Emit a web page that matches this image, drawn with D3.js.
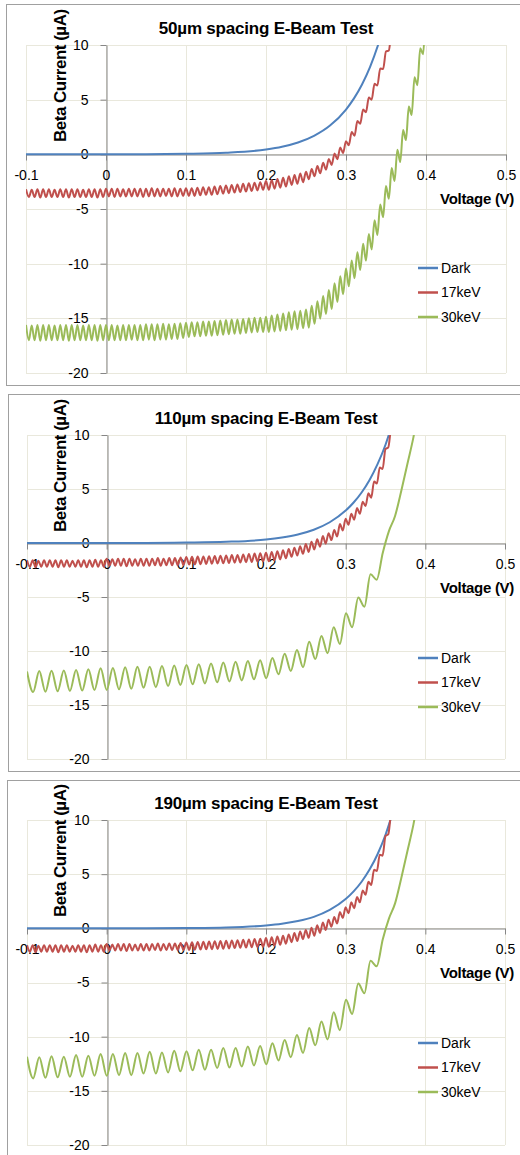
<!DOCTYPE html>
<html>
<head>
<meta charset="utf-8">
<script src="https://cdn.jsdelivr.net/npm/d3@7"></script>
<style>
  body { margin: 0; background: #fff; }
  svg { display: block; font-family: "Liberation Sans", Arial, sans-serif; }
  .tick text { font-size: 14px; fill: #000; }
  .axis path, .axis line { stroke: #868686; }
</style>
</head>
<body>
<svg id="chart"></svg>
<script>
const width = 520,
  height = 1155;

// axes
const voltTicks = [-0.1, 0, 0.1, 0.2, 0.3, 0.4, 0.5];
const currentTicks = [-20, -15, -10, -5, 0, 5, 10];
const seriesNames = ["Dark", "17keV", "30keV"];
const seriesColors = ["#4F81BD", "#C0504D", "#9BBB59"];
const titles = [
  "50µm spacing E-Beam Test",
  "110µm spacing E-Beam Test",
  "190µm spacing E-Beam Test",
];

// dark curves (voltage, current in µA)
const darkVoltage = [-0.1, -0.05, 0, 0.05, 0.1, 0.15, 0.2, 0.22, 0.24, 0.26, 0.28, 0.3, 0.31, 0.32, 0.33, 0.34, 0.35, 0.36];
const dark50 = [0, 0, 0, 0.01, 0.05, 0.15, 0.44, 0.69, 1.08, 1.69, 2.63, 4.1, 5.12, 6.39, 7.98, 9.98, 12.4, 15.5];
const dark110 = [0, 0, 0, 0.01, 0.04, 0.11, 0.32, 0.51, 0.79, 1.23, 1.92, 3.0, 3.75, 4.68, 5.84, 7.3, 9.1, 11.4];
const dark190 = [0, 0, 0, 0.01, 0.03, 0.08, 0.26, 0.42, 0.67, 1.06, 1.7, 2.7, 3.41, 4.3, 5.42, 6.84, 8.64, 10.9];

// e-beam sweeps: sweep starts at -0.1 V, one reading per ripple half-period
const sweepStart = -0.1;
const step50 = 0.003571;
const step17k = 0.003571;
const step30k = 0.0077;

const red50 = [
  -3.2, -3.9, -3.25, -3.9, -3.2, -3.95, -3.2, -3.9, -3.2, -3.9, -3.25, -3.9, -3.2, -3.9,
  -3.2, -3.95, -3.2, -3.9, -3.2, -3.9, -3.25, -3.9, -3.2, -3.9, -3.2, -3.95, -3.2, -3.9,
  -3.15, -3.85, -3.15, -3.9, -3.15, -3.85, -3.2, -3.85, -3.15, -3.85, -3.15, -3.85, -3.15, -3.9,
  -3.15, -3.85, -3.1, -3.85, -3.15, -3.85, -3.15, -3.8, -3.15, -3.85, -3.1, -3.85, -3.15, -3.8,
  -3.1, -3.8, -3.1, -3.8, -3.05, -3.75, -3.0, -3.7, -3.0, -3.7, -2.95, -3.65, -2.9, -3.6,
  -2.85, -3.55, -2.8, -3.5, -2.75, -3.45, -2.7, -3.4, -2.65, -3.35, -2.6, -3.3, -2.55, -3.25,
  -2.45, -3.25, -2.35, -3.15, -2.25, -3.05, -2.15, -2.95, -2.0, -2.8, -1.9, -2.7, -1.75, -2.55,
  -1.6, -2.27, -1.35, -2.0, -1.07, -1.73, -0.78, -1.4, -0.42, -0.97, 0.08, -0.45, 0.63, 0.11,
  1.2, 0.83, 2.05, 1.7, 3.05, 2.8, 4.1, 3.85, 5.2, 5.0, 6.45, 6.3, 7.85, 7.8,
  9.4, 9.5, 11.2, 11.3,
];
const green50 = [
  -15.6, -17.0, -15.65, -17.0, -15.6, -17.05, -15.6, -17.0, -15.6, -17.0, -15.65, -17.0, -15.6, -17.0,
  -15.6, -17.05, -15.6, -17.0, -15.6, -17.0, -15.65, -17.0, -15.6, -17.0, -15.6, -17.05, -15.6, -17.0,
  -15.6, -17.0, -15.6, -17.0, -15.65, -17.0, -15.6, -17.0, -15.6, -16.95, -15.6, -17.0, -15.6, -17.0,
  -15.55, -16.95, -15.55, -17.0, -15.55, -16.95, -15.5, -16.95, -15.55, -16.9, -15.5, -16.9, -15.45, -16.8,
  -15.4, -16.7, -15.35, -16.65, -15.35, -16.65, -15.3, -16.6, -15.3, -16.6, -15.25, -16.55, -15.2, -16.5,
  -15.15, -16.45, -15.1, -16.4, -15.1, -16.4, -15.05, -16.35, -15.0, -16.3, -14.95, -16.25, -14.95, -16.25,
  -14.85, -16.25, -14.75, -16.2, -14.65, -16.15, -14.55, -16.1, -14.45, -16.05, -14.35, -16.0, -14.3, -15.9,
  -14.2, -15.85, -13.85, -15.5, -13.44, -15.03, -12.95, -14.6, -12.4, -14.15, -11.8, -13.5, -11.15, -12.8,
  -10.45, -12.07, -9.7, -11.33, -8.95, -10.57, -8.17, -9.72, -7.28, -8.7, -6.04, -7.38, -4.58, -5.74,
  -2.9, -4.07, -1.26, -2.44, 0.43, -0.71, 2.23, 1.3, 4.37, 3.6, 7.06, 6.33, 9.7, 9.15, 13.0, 12.5,
];

const red110 = [
  -1.6, -2.2, -1.6, -2.25, -1.65, -2.2, -1.6, -2.2, -1.6, -2.2, -1.6, -2.25, -1.6, -2.2,
  -1.6, -2.2, -1.65, -2.2, -1.6, -2.2, -1.6, -2.25, -1.6, -2.2, -1.55, -2.2, -1.6, -2.2,
  -1.45, -2.1, -1.5, -2.1, -1.45, -2.1, -1.45, -2.15, -1.45, -2.1, -1.5, -2.1, -1.45, -2.1,
  -1.45, -2.1, -1.45, -2.05, -1.4, -2.1, -1.45, -2.05, -1.4, -2.05, -1.4, -2.05, -1.35, -2.05,
  -1.3, -2.0, -1.28, -1.98, -1.26, -1.96, -1.24, -1.94, -1.22, -1.92, -1.2, -1.9, -1.18, -1.88,
  -1.15, -1.85, -1.12, -1.82, -1.1, -1.8, -1.06, -1.78, -1.02, -1.75, -0.98, -1.72, -0.95, -1.7,
  -0.9, -1.7, -0.83, -1.6, -0.76, -1.52, -0.68, -1.42, -0.56, -1.28, -0.43, -1.16, -0.29, -1.0,
  -0.1, -0.83, 0.11, -0.6, 0.34, -0.34, 0.64, -0.06, 0.91, 0.27, 1.21, 0.6, 1.75, 1.15,
  2.25, 1.68, 2.71, 2.15, 3.23, 2.7, 3.83, 3.42, 4.6, 4.2, 5.7, 5.5, 7.0, 6.85,
  8.7, 8.85, 10.6, 10.8,
];
const green110 = [
  -11.9, -13.8, -11.86, -13.77, -11.83, -13.73, -11.8, -13.7, -11.75, -13.66, -11.7, -13.62, -11.6, -13.6,
  -11.57, -13.55, -11.5, -13.5, -11.45, -13.4, -11.45, -13.35, -11.4, -13.25, -11.35, -13.15,
  -11.3, -13.08, -11.22, -13.0, -11.15, -12.9, -11.07, -12.82, -11.0, -12.72, -10.93, -12.62, -10.85, -12.52,
  -10.65, -12.15, -10.25, -11.85, -9.9, -11.5, -9.15, -10.75, -8.6, -10.2, -7.8, -9.35,
  -6.5, -7.8, -5.05, -5.9, -2.9, -3.4, -0.9, 1.1, 2.5, 4.8, 7.3, 9.8, 13.0, 15.0,
];

const red190 = [
  -1.55, -2.15, -1.55, -2.2, -1.6, -2.15, -1.55, -2.15, -1.55, -2.15, -1.55, -2.2, -1.55, -2.15,
  -1.55, -2.15, -1.6, -2.15, -1.55, -2.15, -1.55, -2.2, -1.55, -2.15, -1.5, -2.15, -1.55, -2.15,
  -1.45, -2.05, -1.5, -2.05, -1.45, -2.05, -1.45, -2.1, -1.45, -2.05, -1.5, -2.05, -1.45, -2.05,
  -1.45, -2.05, -1.45, -2.0, -1.4, -2.05, -1.45, -2.0, -1.4, -2.0, -1.4, -2.0, -1.35, -2.0,
  -1.3, -2.0, -1.28, -1.98, -1.26, -1.96, -1.24, -1.94, -1.22, -1.92, -1.2, -1.9, -1.18, -1.88,
  -1.15, -1.85, -1.12, -1.82, -1.1, -1.8, -1.06, -1.78, -1.02, -1.75, -0.98, -1.72, -0.95, -1.7,
  -0.9, -1.7, -0.83, -1.6, -0.76, -1.52, -0.68, -1.42, -0.56, -1.28, -0.43, -1.16, -0.29, -1.0,
  -0.15, -0.88, 0.05, -0.68, 0.28, -0.42, 0.55, -0.15, 0.8, 0.15, 1.05, 0.45, 1.5, 0.95,
  1.95, 1.4, 2.4, 1.85, 2.9, 2.4, 3.5, 3.1, 4.3, 4.0, 5.4, 5.3, 6.8, 6.7,
  8.5, 8.7, 10.5, 10.7,
];
const green190 = [
  -11.85, -13.85, -11.9, -13.8, -11.8, -13.75, -11.85, -13.7, -11.7, -13.7, -11.75, -13.6, -11.6, -13.6,
  -11.6, -13.55, -11.5, -13.55, -11.5, -13.4, -11.4, -13.4, -11.45, -13.3, -11.3, -13.2,
  -11.35, -13.1, -11.2, -13.05, -11.2, -12.9, -11.05, -12.85, -11.05, -12.75, -10.9, -12.65, -10.85, -12.55,
  -10.6, -12.2, -10.3, -11.9, -9.85, -11.5, -9.2, -10.8, -8.6, -10.25, -7.75, -9.4,
  -6.6, -7.9, -5.1, -6.0, -3.0, -3.5, -1.0, 0.9, 2.3, 4.6, 7.1, 9.6, 12.8, 15.0,
];

const panels = [
  { frame: [6, 4, 385], plot: [26, 506, 45, 373], title: titles[0], dark: dark50, red: red50, green: green50, greenStep: step50 },
  { frame: [8, 394, 771], plot: [27, 505, 435, 759], title: titles[1], dark: dark110, red: red110, green: green110, greenStep: step30k },
  { frame: [7, 780, 1170], plot: [27, 505, 820, 1145], title: titles[2], dark: dark190, red: red190, green: green190, greenStep: step30k },
];

const svg = d3.select("#chart").attr("width", width).attr("height", height);

svg.append("rect").attr("width", width).attr("height", height).attr("fill", "#fff");

const fmt = (d) => String(+d.toFixed(1));

function sweep(values, step) {
  return values.map((c, i) => [sweepStart + i * step, c]);
}

function drawPanel(p, idx) {
  const [fx, fTop, fBottom] = p.frame;
  const [left, right, top, bottom] = p.plot;

  svg
    .append("rect")
    .attr("x", fx + 0.5)
    .attr("y", fTop + 0.5)
    .attr("width", width + 20)
    .attr("height", fBottom - fTop)
    .attr("fill", "#fff")
    .attr("stroke", "#a0a0a0");

  const x = d3.scaleLinear().domain([-0.1, 0.5]).range([left, right]);
  const y = d3.scaleLinear().domain([-20, 10]).range([bottom, top]);

  const g = svg.append("g");

  // gridlines
  g.selectAll(".vgrid")
    .data(voltTicks)
    .enter()
    .append("line")
    .attr("x1", (d) => Math.round(x(d)) + 0.5)
    .attr("x2", (d) => Math.round(x(d)) + 0.5)
    .attr("y1", top)
    .attr("y2", bottom)
    .attr("stroke", "#e9e8dc");

  g.selectAll(".hgrid")
    .data(currentTicks)
    .enter()
    .append("line")
    .attr("x1", left)
    .attr("x2", right)
    .attr("y1", (d) => Math.round(y(d)) + 0.5)
    .attr("y2", (d) => Math.round(y(d)) + 0.5)
    .attr("stroke", "#e9e8dc");

  // Y axis at V = 0
  g.append("g")
    .attr("class", "axis")
    .attr("transform", `translate(${Math.round(x(0)) + 0.5},0)`)
    .call(
      d3.axisLeft(y).tickValues(currentTicks).tickSize(6).tickSizeOuter(0).tickPadding(12).tickFormat(fmt)
    );

  // X axis at I = 0
  g.append("g")
    .attr("class", "axis")
    .attr("transform", `translate(0,${Math.round(y(0)) + 0.5})`)
    .call(
      d3.axisBottom(x).tickValues(voltTicks).tickSize(6).tickSizeOuter(0).tickPadding(10).tickFormat(fmt)
    );

  g.selectAll(".axis .domain").attr("stroke", "#868686");

  // Title and axis labels
  g.append("text")
    .attr("x", (left + right) / 2)
    .attr("y", top - 11)
    .attr("text-anchor", "middle")
    .attr("font-size", 17)
    .attr("font-weight", "bold")
    .attr("letter-spacing", -0.2)
    .text(p.title);

  g.append("text")
    .attr("transform", `translate(66,${top + 97}) rotate(-90)`)
    .attr("font-size", 17)
    .attr("font-weight", "bold")
    .attr("letter-spacing", -0.5)
    .text("Beta Current (µA)");

  g.append("text")
    .attr("x", 514)
    .attr("y", y(0) + 50)
    .attr("text-anchor", "end")
    .attr("font-size", 15)
    .attr("font-weight", "bold")
    .attr("letter-spacing", -0.3)
    .text("Voltage (V)");

  // series, clipped to the plot area
  const clipId = "clip" + idx;
  svg
    .append("clipPath")
    .attr("id", clipId)
    .append("rect")
    .attr("x", left)
    .attr("y", top)
    .attr("width", right - left)
    .attr("height", bottom - top);

  const line = d3
    .line()
    .x((d) => x(d[0]))
    .y((d) => y(d[1]))
    .curve(d3.curveMonotoneX);

  const series = [
    darkVoltage.map((v, i) => [v, p.dark[i]]),
    sweep(p.red, step17k),
    sweep(p.green, p.greenStep),
  ];

  g.append("g")
    .attr("clip-path", `url(#${clipId})`)
    .selectAll("path")
    .data(series)
    .enter()
    .append("path")
    .attr("d", line)
    .attr("fill", "none")
    .attr("stroke", (d, i) => seriesColors[i])
    .attr("stroke-width", 2)
    .attr("stroke-linejoin", "round");

  // Legend
  const legend = g
    .selectAll(".legend")
    .data(seriesNames)
    .enter()
    .append("g")
    .attr("transform", (d, i) => `translate(418,${top + 223 + i * 24.5})`);

  legend
    .append("line")
    .attr("x1", 0)
    .attr("x2", 20)
    .attr("stroke", (d, i) => seriesColors[i])
    .attr("stroke-width", 2.5);

  legend
    .append("text")
    .attr("x", 23)
    .attr("dy", "0.35em")
    .attr("font-size", 14)
    .text((d) => d);
}

panels.forEach(drawPanel);
</script>
</body>
</html>
